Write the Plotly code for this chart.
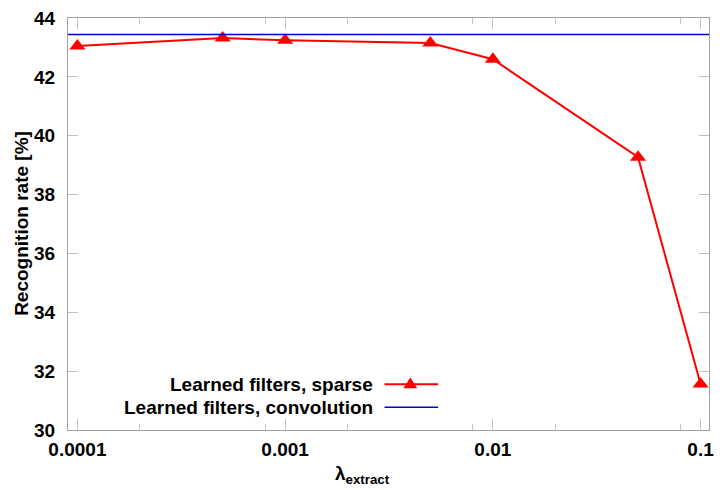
import plotly.graph_objects as go
import math

# ---- data ----
lambdas = [0.0001, 0.0005, 0.001, 0.005, 0.01, 0.05, 0.1]
sparse_rate = [43.05, 43.32, 43.24, 43.15, 42.6, 39.27, 31.56]
conv_rate = 43.44
x_tick_vals = [0.0001, 0.001, 0.01, 0.1]
x_tick_text = ["0.0001", "0.001", "0.01", "0.1"]
x_mid_vals = [0.0005, 0.005, 0.05]
x_minor_vals = [0.0002, 0.0008, 0.002, 0.008, 0.02, 0.08]
series_names = ["Learned filters, sparse", "Learned filters, convolution"]

W, H = 722, 490
ML, MR, MT, MB = 68, 8, 15, 60
PW, PH = W - ML - MR, H - MT - MB

RED = "#ff0000"
BLUE = "#0000cc"
FRAME = "#a0a0a0"
TICK = "#c0c0c0"
FONT = "Liberation Sans, Arial, sans-serif"
FS = 19

fig = go.Figure()
fig.add_trace(go.Scatter(
    x=lambdas, y=sparse_rate, mode="lines+markers",
    line=dict(color=RED, width=2),
    marker=dict(symbol="triangle-up", size=14, color=RED),
    name=series_names[0], showlegend=False, cliponaxis=False))
fig.add_trace(go.Scatter(
    x=[1e-5, 1.0], y=[conv_rate, conv_rate], mode="lines",
    line=dict(color=BLUE, width=1.5),
    name=series_names[1], showlegend=False))

dec = 209.5
xr = [math.log10(0.0001) - 9.5 / dec, math.log10(0.1) + 8.5 / dec]

fig.update_layout(
    xaxis=dict(
        type="log", range=xr,
        showline=True, linecolor=FRAME, linewidth=1, mirror="ticks",
        ticks="inside", ticklen=11, tickcolor=TICK, tickwidth=1,
        tickmode="array", tickvals=x_tick_vals, ticktext=x_tick_text,
        minor=dict(tickmode="array", tickvals=x_minor_vals, ticks="inside",
                   ticklen=6, tickcolor=TICK, showgrid=False),
        showgrid=False, zeroline=False,
        ticklabelstandoff=2,
        tickfont=dict(family=FONT, size=FS, color="black", weight="bold"),
    ),
    xaxis2=dict(
        type="log", range=xr, overlaying="x", anchor="y", side="bottom",
        showline=False, mirror="ticks",
        ticks="inside", ticklen=11, tickcolor=TICK, tickwidth=1,
        tickmode="array", tickvals=x_mid_vals, showticklabels=False,
        showgrid=False, zeroline=False,
    ),
    yaxis=dict(
        range=[30, 44], dtick=2, tick0=30,
        showline=True, linecolor=FRAME, linewidth=1, mirror="ticks",
        ticks="inside", ticklen=10, tickcolor=TICK, tickwidth=1,
        showgrid=False, zeroline=False,
        ticklabelstandoff=8,
        tickfont=dict(family=FONT, size=FS, color="black", weight="bold"),
    ),
)

def px2x(px):
    return (px - ML) / PW

def py2y(py):
    return 1 - (py - MT) / PH

annotations = [
    dict(text="λ<sub>extract</sub>", x=px2x(365), y=py2y(475), xref="paper", yref="paper",
         showarrow=False, font=dict(family=FONT, size=FS, color="black", weight="bold"),
         xanchor="center", yanchor="middle"),
    dict(text="Recognition rate [%]", x=px2x(21), y=py2y(222), xref="paper", yref="paper",
         showarrow=False, textangle=-90,
         font=dict(family=FONT, size=FS, color="black", weight="bold"),
         xanchor="center", yanchor="middle"),
]
legend_rows = [384, 407]
for name, ry in zip(series_names, legend_rows):
    annotations.append(dict(
        text=name, x=px2x(377), y=py2y(ry), xref="paper", yref="paper",
        showarrow=False, xanchor="right", yanchor="middle",
        font=dict(family=FONT, size=FS, color="black", weight="bold")))

shapes = [
    dict(type="line", xref="paper", yref="paper",
         x0=px2x(387), x1=px2x(441), y0=py2y(legend_rows[0]), y1=py2y(legend_rows[0]),
         line=dict(color=RED, width=2)),
    dict(type="line", xref="paper", yref="paper",
         x0=px2x(387), x1=px2x(441), y0=py2y(legend_rows[1]), y1=py2y(legend_rows[1]),
         line=dict(color=BLUE, width=1.5)),
]
cx, cy = 413, legend_rows[0]
tri = "M {:.5f} {:.5f} L {:.5f} {:.5f} L {:.5f} {:.5f} Z".format(
    px2x(cx - 7), py2y(cy + 4), px2x(cx + 7), py2y(cy + 4), px2x(cx), py2y(cy - 7))
shapes.append(dict(type="path", xref="paper", yref="paper", path=tri,
                   fillcolor=RED, line=dict(color=RED, width=0)))

fig.update_layout(
    width=W, height=H,
    margin=dict(l=ML, r=MR, t=MT, b=MB),
    paper_bgcolor="white", plot_bgcolor="white",
    annotations=annotations, shapes=shapes,
    showlegend=False,
    font=dict(family=FONT),
)

fig.write_html("out.html")
